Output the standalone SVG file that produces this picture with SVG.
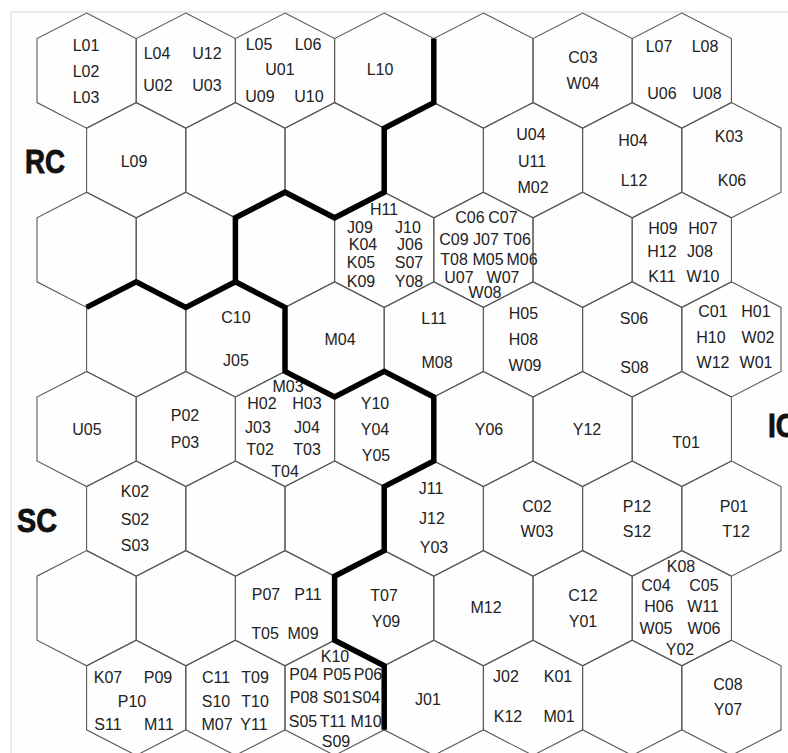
<svg xmlns="http://www.w3.org/2000/svg" xmlns:xlink="http://www.w3.org/1999/xlink" width="788" height="753" viewBox="0 0 788 753">
<style>
.hx{fill:none;stroke:#5a5a5a;stroke-width:1.1}
.t{font-family:"Liberation Sans",Arial,sans-serif;font-size:16px;fill:#222;text-anchor:middle}
.big{font-family:"Liberation Sans",Arial,sans-serif;font-size:33px;font-weight:bold;fill:#111;stroke:#111;stroke-width:0.9}
.bd{fill:none;stroke:#000;stroke-width:5.5;stroke-linejoin:miter;stroke-linecap:butt}
</style>
<defs>
<polygon id="hex" class="hx" points="0,-57.6 49.6,-32 49.6,32 0,57.6 -49.6,32 -49.6,-32"/>
</defs>
<rect x="0" y="0" width="788" height="753" fill="#fff"/>
<rect x="11" y="12" width="790" height="760" fill="#fefefe" stroke="#d6d6d6" stroke-width="1"/>
<g id="labels">
<text class="big" x="25" y="173" textLength="40" lengthAdjust="spacingAndGlyphs">RC</text>
<text class="big" x="17" y="532" textLength="40" lengthAdjust="spacingAndGlyphs">SC</text>
<text class="big" x="768" y="437" textLength="28" lengthAdjust="spacingAndGlyphs">IC</text>
</g>
<g id="nodes">
<!-- Row 1 -->
<g id="r1c1"><use href="#hex" x="86.6" y="70.6"/><text class="t" x="86" y="51">L01</text><text class="t" x="86" y="77">L02</text><text class="t" x="86" y="103">L03</text></g>
<g id="r1c2"><use href="#hex" x="185.8" y="70.6"/><text class="t" x="157" y="59">L04</text><text class="t" x="207" y="59">U12</text><text class="t" x="158" y="91">U02</text><text class="t" x="207" y="91">U03</text></g>
<g id="r1c3"><use href="#hex" x="285" y="70.6"/><text class="t" x="259" y="50">L05</text><text class="t" x="308" y="50">L06</text><text class="t" x="280" y="75">U01</text><text class="t" x="260" y="102">U09</text><text class="t" x="309" y="102">U10</text></g>
<g id="r1c4"><use href="#hex" x="384.2" y="70.6"/><text class="t" x="380" y="75">L10</text></g>
<g id="r1c5"><use href="#hex" x="483.4" y="70.6"/></g>
<g id="r1c6"><use href="#hex" x="582.6" y="70.6"/><text class="t" x="583" y="63">C03</text><text class="t" x="583" y="89">W04</text></g>
<g id="r1c7"><use href="#hex" x="681.8" y="70.6"/><text class="t" x="659" y="52">L07</text><text class="t" x="705" y="52">L08</text><text class="t" x="662" y="99">U06</text><text class="t" x="707" y="99">U08</text></g>
<!-- Row 2 -->
<g id="r2c1"><use href="#hex" x="136.2" y="160.2"/><text class="t" x="134" y="167">L09</text></g>
<g id="r2c2"><use href="#hex" x="235.4" y="160.2"/></g>
<g id="r2c3"><use href="#hex" x="334.6" y="160.2"/></g>
<g id="r2c4"><use href="#hex" x="433.8" y="160.2"/></g>
<g id="r2c5"><use href="#hex" x="533" y="160.2"/><text class="t" x="531" y="140">U04</text><text class="t" x="532" y="167">U11</text><text class="t" x="533" y="193">M02</text></g>
<g id="r2c6"><use href="#hex" x="632.2" y="160.2"/><text class="t" x="633" y="146">H04</text><text class="t" x="634" y="186">L12</text></g>
<g id="r2c7"><use href="#hex" x="731.4" y="160.2"/><text class="t" x="729" y="142">K03</text><text class="t" x="732" y="186">K06</text></g>
<!-- Row 3 -->
<g id="r3c1"><use href="#hex" x="86.6" y="249.8"/></g>
<g id="r3c2"><use href="#hex" x="185.8" y="249.8"/></g>
<g id="r3c3"><use href="#hex" x="285" y="249.8"/></g>
<g id="r3c4"><use href="#hex" x="384.2" y="249.8"/><text class="t" x="384" y="215">H11</text><text class="t" x="360" y="233">J09</text><text class="t" x="408" y="233">J10</text><text class="t" x="363" y="250">K04</text><text class="t" x="410" y="250">J06</text><text class="t" x="361" y="268">K05</text><text class="t" x="409" y="268">S07</text><text class="t" x="361" y="287">K09</text><text class="t" x="409" y="287">Y08</text></g>
<g id="r3c5"><use href="#hex" x="483.4" y="249.8"/><text class="t" x="470" y="223">C06</text><text class="t" x="503" y="223">C07</text><text class="t" x="454" y="245">C09</text><text class="t" x="486" y="245">J07</text><text class="t" x="517" y="245">T06</text><text class="t" x="454" y="265">T08</text><text class="t" x="488" y="265">M05</text><text class="t" x="522" y="265">M06</text><text class="t" x="459" y="283">U07</text><text class="t" x="503" y="283">W07</text><text class="t" x="485" y="298">W08</text></g>
<g id="r3c6"><use href="#hex" x="582.6" y="249.8"/></g>
<g id="r3c7"><use href="#hex" x="681.8" y="249.8"/><text class="t" x="663" y="234">H09</text><text class="t" x="703" y="234">H07</text><text class="t" x="662" y="257">H12</text><text class="t" x="700" y="257">J08</text><text class="t" x="662" y="282">K11</text><text class="t" x="703" y="282">W10</text></g>
<!-- Row 4 -->
<g id="r4c1"><use href="#hex" x="136.2" y="339.4"/></g>
<g id="r4c2"><use href="#hex" x="235.4" y="339.4"/><text class="t" x="236" y="323">C10</text><text class="t" x="236" y="366">J05</text></g>
<g id="r4c3"><use href="#hex" x="334.6" y="339.4"/><text class="t" x="340" y="345">M04</text></g>
<g id="r4c4"><use href="#hex" x="433.8" y="339.4"/><text class="t" x="434" y="324">L11</text><text class="t" x="437" y="368">M08</text></g>
<g id="r4c5"><use href="#hex" x="533" y="339.4"/><text class="t" x="523.5" y="319">H05</text><text class="t" x="523.5" y="345">H08</text><text class="t" x="525" y="371">W09</text></g>
<g id="r4c6"><use href="#hex" x="632.2" y="339.4"/><text class="t" x="634" y="324">S06</text><text class="t" x="634.5" y="373">S08</text></g>
<g id="r4c7"><use href="#hex" x="731.4" y="339.4"/><text class="t" x="713" y="317">C01</text><text class="t" x="756" y="317">H01</text><text class="t" x="711" y="343">H10</text><text class="t" x="758" y="343">W02</text><text class="t" x="713" y="368">W12</text><text class="t" x="756" y="368">W01</text></g>
<!-- Row 5 -->
<g id="r5c1"><use href="#hex" x="86.6" y="429"/><text class="t" x="87" y="435">U05</text></g>
<g id="r5c2"><use href="#hex" x="185.8" y="429"/><text class="t" x="185" y="421">P02</text><text class="t" x="185" y="448">P03</text></g>
<g id="r5c3"><use href="#hex" x="285" y="429"/><text class="t" x="288" y="392">M03</text><text class="t" x="262" y="409">H02</text><text class="t" x="307" y="409">H03</text><text class="t" x="258" y="433">J03</text><text class="t" x="307" y="433">J04</text><text class="t" x="260" y="455">T02</text><text class="t" x="307" y="455">T03</text><text class="t" x="285" y="477">T04</text></g>
<g id="r5c4"><use href="#hex" x="384.2" y="429"/><text class="t" x="375" y="409">Y10</text><text class="t" x="375" y="435">Y04</text><text class="t" x="376" y="461">Y05</text></g>
<g id="r5c5"><use href="#hex" x="483.4" y="429"/><text class="t" x="489" y="435">Y06</text></g>
<g id="r5c6"><use href="#hex" x="582.6" y="429"/><text class="t" x="587" y="435">Y12</text></g>
<g id="r5c7"><use href="#hex" x="681.8" y="429"/><text class="t" x="686" y="448">T01</text></g>
<!-- Row 6 -->
<g id="r6c1"><use href="#hex" x="136.2" y="518.6"/><text class="t" x="135" y="497">K02</text><text class="t" x="135" y="525">S02</text><text class="t" x="135" y="551">S03</text></g>
<g id="r6c2"><use href="#hex" x="235.4" y="518.6"/></g>
<g id="r6c3"><use href="#hex" x="334.6" y="518.6"/></g>
<g id="r6c4"><use href="#hex" x="433.8" y="518.6"/><text class="t" x="431" y="494">J11</text><text class="t" x="432" y="524">J12</text><text class="t" x="434" y="553">Y03</text></g>
<g id="r6c5"><use href="#hex" x="533" y="518.6"/><text class="t" x="537" y="512">C02</text><text class="t" x="537" y="537">W03</text></g>
<g id="r6c6"><use href="#hex" x="632.2" y="518.6"/><text class="t" x="637" y="512">P12</text><text class="t" x="637" y="537">S12</text></g>
<g id="r6c7"><use href="#hex" x="731.4" y="518.6"/><text class="t" x="734" y="512">P01</text><text class="t" x="736" y="537">T12</text></g>
<!-- Row 7 -->
<g id="r7c1"><use href="#hex" x="86.6" y="608.2"/></g>
<g id="r7c2"><use href="#hex" x="185.8" y="608.2"/></g>
<g id="r7c3"><use href="#hex" x="285" y="608.2"/><text class="t" x="266" y="600">P07</text><text class="t" x="308" y="600">P11</text><text class="t" x="265" y="639">T05</text><text class="t" x="303" y="639">M09</text></g>
<g id="r7c4"><use href="#hex" x="384.2" y="608.2"/><text class="t" x="384" y="601">T07</text><text class="t" x="386" y="627">Y09</text></g>
<g id="r7c5"><use href="#hex" x="483.4" y="608.2"/><text class="t" x="486" y="613">M12</text></g>
<g id="r7c6"><use href="#hex" x="582.6" y="608.2"/><text class="t" x="583" y="601">C12</text><text class="t" x="583" y="627">Y01</text></g>
<g id="r7c7"><use href="#hex" x="681.8" y="608.2"/><text class="t" x="681" y="572">K08</text><text class="t" x="656" y="591">C04</text><text class="t" x="704" y="591">C05</text><text class="t" x="659" y="612">H06</text><text class="t" x="703" y="612">W11</text><text class="t" x="656" y="634">W05</text><text class="t" x="704" y="634">W06</text><text class="t" x="680" y="655">Y02</text></g>
<!-- Row 8 -->
<g id="r8c1"><use href="#hex" x="136.2" y="697.8"/><text class="t" x="108" y="683">K07</text><text class="t" x="158" y="683">P09</text><text class="t" x="132" y="707">P10</text><text class="t" x="108" y="730">S11</text><text class="t" x="159" y="730">M11</text></g>
<g id="r8c2"><use href="#hex" x="235.4" y="697.8"/><text class="t" x="216" y="683">C11</text><text class="t" x="255" y="683">T09</text><text class="t" x="216" y="707">S10</text><text class="t" x="255" y="707">T10</text><text class="t" x="217" y="730">M07</text><text class="t" x="254" y="730">Y11</text></g>
<g id="r8c3"><use href="#hex" x="334.6" y="697.8"/><text class="t" x="335" y="662">K10</text><text class="t" x="303.5" y="680">P04</text><text class="t" x="337" y="680">P05</text><text class="t" x="368" y="680">P06</text><text class="t" x="304" y="703">P08</text><text class="t" x="337" y="703">S01</text><text class="t" x="366" y="703">S04</text><text class="t" x="303" y="727">S05</text><text class="t" x="333" y="727">T11</text><text class="t" x="366" y="727">M10</text><text class="t" x="336" y="747">S09</text></g>
<g id="r8c4"><use href="#hex" x="433.8" y="697.8"/><text class="t" x="428" y="705">J01</text></g>
<g id="r8c5"><use href="#hex" x="533" y="697.8"/><text class="t" x="506" y="682">J02</text><text class="t" x="558" y="682">K01</text><text class="t" x="508" y="722">K12</text><text class="t" x="559" y="722">M01</text></g>
<g id="r8c6"><use href="#hex" x="632.2" y="697.8"/></g>
<g id="r8c7"><use href="#hex" x="731.4" y="697.8"/><text class="t" x="728" y="690">C08</text><text class="t" x="728" y="715">Y07</text></g>
</g>
<g id="connectors">
<path class="bd" d="M433.8,38.6 V102.6 L384.2,128.2 V192.2 L334.6,217.8 L285,192.2 L235.4,217.8 V281.8 L185.8,307.4 L136.2,281.8 L86.6,307.4"/>
<path class="bd" d="M235.4,281.8 L285,307.4 V371.4 L334.6,397 L384.2,371.4 L433.8,397 V461 L384.2,486.6 V550.6 L334.6,576.2 V640.2 L384.2,665.8 V729.8"/>
</g>
</svg>
